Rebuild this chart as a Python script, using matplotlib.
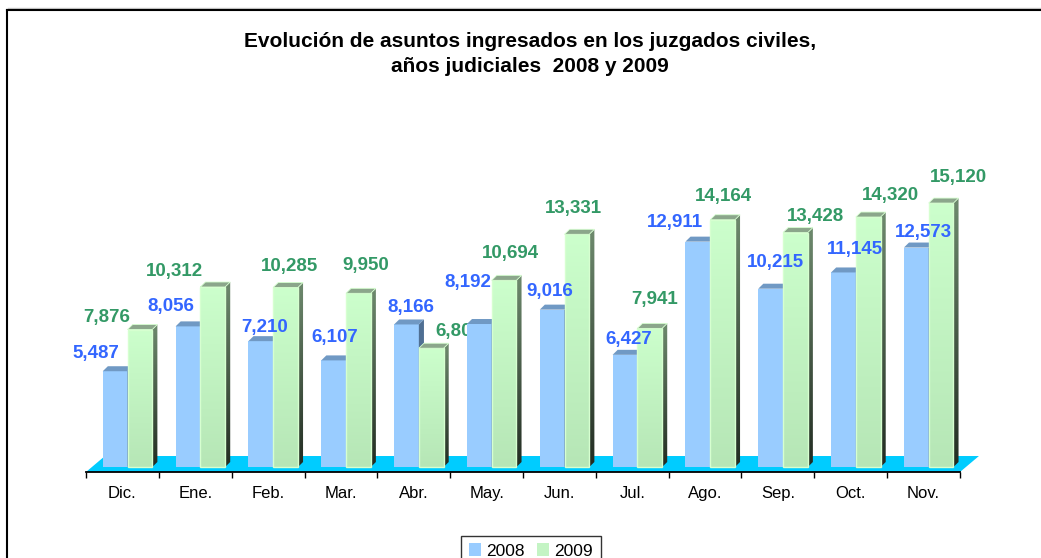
import numpy as np
import matplotlib
matplotlib.use("Agg")
import matplotlib.pyplot as plt
from matplotlib.patches import Polygon, Patch
from matplotlib.colors import LinearSegmentedColormap
from matplotlib.lines import Line2D

plt.rcParams['font.family'] = ['Liberation Sans', 'DejaVu Sans']

# data
meses = ['Dic.', 'Ene.', 'Feb.', 'Mar.', 'Abr.', 'May.', 'Jun.', 'Jul.', 'Ago.', 'Sep.', 'Oct.', 'Nov.']
ingresados_2008 = [5487, 8056, 7210, 6107, 8166, 8192, 9016, 6427, 12911, 10215, 11145, 12573]
ingresados_2009 = [7876, 10312, 10285, 9950, 6805, 10694, 13331, 7941, 14164, 13428, 14320, 15120]

# label nudges in pixels (Excel moved the labels around a bit)
nudge_2008_x = [-19, -17, 4, 1, 4, -11, -2, 4, -23, 5, 11, 7]
nudge_2008_y = [18, 20, 14, 23, 17, 42, 18, 15, 19, 26, 23, 15]
nudge_2009_x = [-33, -38, 4, 7, 28, 6, -3, 5, 1, 20, 22, 17]
nudge_2009_y = [12, 15, 21, 28, 17, 27, 26, 29, 23, 16, 22, 26]

# colours
azul = '#99CCFF'
azul_top = '#7099C4'
azul_side = '#4F6F93'
verde_top = '#8BA68B'
cian = '#00CCFF'

fig = plt.figure(figsize=(10.41, 5.58), dpi=100)
ax = fig.add_axes([86 / 1041, 1 - 472 / 558, 874 / 1041, 322 / 558])

ymin, ymax = -286, 18160
bw = 0.34          # bar width
ddx, ddy = 0.07, 286   # bar depth
fdx, fdy = 0.26, 916   # floor depth

x = np.arange(len(meses))

# floor
floor = Polygon([(-0.5, ymin), (11.5, ymin), (11.5 + fdx, ymin + fdy), (-0.5 + fdx, ymin + fdy)],
                closed=True, facecolor=cian, edgecolor='none', zorder=1, clip_on=False)
ax.add_patch(floor)

grad_front = LinearSegmentedColormap.from_list('gf', ['#B6E6B6', '#CCFFCC'])
grad_side = LinearSegmentedColormap.from_list('gs', ['#222c22', '#6E8A6E'])
grad = np.linspace(0, 1, 256).reshape(-1, 1)


def draw_bar(x0, v, z, front, top, side, gradient=False):
    x1 = x0 + bw
    if gradient:
        ax.imshow(grad, cmap=grad_front, extent=[x0, x1, 0, v], origin='lower',
                  aspect='auto', zorder=z, interpolation='bilinear')
        ax.add_patch(plt.Rectangle((x0, 0), bw, v, facecolor='none',
                                   edgecolor='#D6FFD0', lw=1.0, zorder=z + 0.01))
    else:
        ax.add_patch(plt.Rectangle((x0, 0), bw, v, facecolor=front,
                                   edgecolor='none', zorder=z))
    top_poly = Polygon([(x0, v), (x1, v), (x1 + ddx, v + ddy), (x0 + ddx, v + ddy)],
                       closed=True, facecolor=top, edgecolor='#D6FFD0' if gradient else 'none',
                       lw=0.6, zorder=z + 0.01)
    ax.add_patch(top_poly)
    side_pts = [(x1, 0), (x1 + ddx, ddy), (x1 + ddx, v + ddy), (x1, v)]
    if gradient:
        clip = Polygon(side_pts, closed=True, facecolor='none', edgecolor='none',
                       transform=ax.transData)
        im = ax.imshow(grad, cmap=grad_side, extent=[x1, x1 + ddx, 0, v + ddy],
                       origin='lower', aspect='auto', zorder=z, interpolation='bilinear')
        im.set_clip_path(clip)
    else:
        ax.add_patch(Polygon(side_pts, closed=True, facecolor=side,
                             edgecolor='none', zorder=z))


for i in x:
    z = 2 + i * 0.1
    b0 = i - 0.27
    g0 = b0 + bw
    draw_bar(b0, ingresados_2008[i], z, azul, azul_top, azul_side)
    draw_bar(g0, ingresados_2009[i], z + 0.02, None, verde_top, None, gradient=True)

    ax.annotate(f'{ingresados_2008[i]:,}', (b0 + bw / 2, ingresados_2008[i]),
                xytext=(nudge_2008_x[i], nudge_2008_y[i]), textcoords='offset pixels',
                ha='center', va='center', fontsize=13.5, fontweight='bold',
                color='#3366FF', zorder=z + 0.05)
    ax.annotate(f'{ingresados_2009[i]:,}', (g0 + bw / 2, ingresados_2009[i]),
                xytext=(nudge_2009_x[i], nudge_2009_y[i]), textcoords='offset pixels',
                ha='center', va='center', fontsize=13.5, fontweight='bold',
                color='#339966', zorder=z + 0.06)

ax.set_xlim(-0.5, 11.5)
ax.set_ylim(ymin, ymax)
ax.set_aspect('auto')

for s in ['top', 'right', 'left']:
    ax.spines[s].set_visible(False)
ax.spines['bottom'].set_linewidth(1.3)
ax.spines['bottom'].set_zorder(5)
ax.set_yticks([])
ax.set_xticks(x)
ax.set_xticklabels(meses, fontsize=12)
ax.set_xticks(np.arange(-0.5, 12, 1), minor=True)
ax.tick_params(axis='x', which='major', length=0, pad=10)
ax.tick_params(axis='x', which='minor', length=4, width=1, direction='out')
ax.patch.set_visible(False)

fig.text(530 / 1041, 1 - 54 / 558,
         'Evolución de asuntos ingresados en los juzgados civiles,\naños judiciales  2008 y 2009',
         ha='center', va='center', fontsize=15, fontweight='bold', linespacing=1.35)

leg = fig.legend(handles=[Patch(facecolor=azul), Patch(facecolor='#C4F4C4')],
                 labels=['2008', '2009'], loc='upper center',
                 bbox_to_anchor=(531 / 1041, 1 - 527 / 558), ncol=2, frameon=True,
                 fancybox=False, edgecolor='black', fontsize=12.5,
                 handlelength=0.7, handleheight=0.7, handletextpad=0.3,
                 columnspacing=0.7, borderpad=0.45)
leg.get_frame().set_linewidth(1.0)

# outer frame (cropped)
fig.add_artist(Line2D([7.5 / 1041, 1], [1 - 7.5 / 558, 1 - 7.5 / 558], color='#C8C8C8', lw=1))
fig.add_artist(Line2D([7 / 1041, 1], [1 - 10 / 558, 1 - 10 / 558], color='black', lw=1.5))
fig.add_artist(Line2D([7 / 1041, 7 / 1041], [0, 1 - 10 / 558], color='black', lw=1.5))

fig.savefig('out.png', dpi=100)
